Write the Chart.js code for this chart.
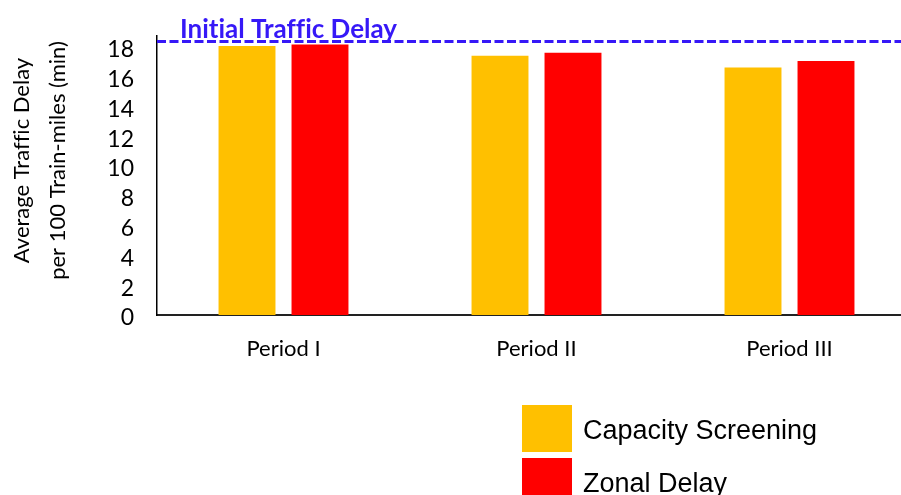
<!DOCTYPE html>
<html>
<head>
<meta charset="utf-8">
<script src="https://cdn.jsdelivr.net/npm/chart.js@4/dist/chart.umd.min.js"></script>
<style>
  html, body { margin: 0; padding: 0; background: #fff; }
  #wrap { position: relative; width: 901px; height: 495px; overflow: hidden; }
  #legend { position: absolute; left: 522px; top: 402px; font-family: "Liberation Sans", Arial, sans-serif; font-size: 27px; color: #000; }
  #legend .item { display: flex; align-items: center; height: 53px; }
  #legend .box { width: 50px; height: 47px; margin-right: 11px; }
  #legend span { position: relative; top: 2px; }
</style>
</head>
<body>
<div id="wrap">
  <canvas id="c" width="901" height="495"></canvas>
  <div id="legend"></div>
</div>
<script>
const categories = ["Period I", "Period II", "Period III"];
const capacityScreening = [18.05, 17.4, 16.6];
const zonalDelay = [18.15, 17.6, 17.05];
const initialTrafficDelay = 18.35;
const seriesNames = ["Capacity Screening", "Zonal Delay"];
const yTickValues = [0, 2, 4, 6, 8, 10, 12, 14, 16, 18];
const yTitle = ["Average Traffic Delay", "per 100 Train-miles (min)"];
const refLabel = "Initial Traffic Delay";

const BLUE = "#3618F7";

const textModePlugin = {
  id: "textMode",
  beforeDraw(chart) { chart.ctx.textRendering = "optimizeSpeed"; }
};

// the plot area of the original runs past the right edge of the picture
const extendXPlugin = {
  id: "extendX",
  afterLayout(chart) {
    const x = chart.scales.x;
    x.right += 15;
    x.width += 15;
    x.configure();
  }
};

const refLinePlugin = {
  id: "refLine",
  afterDatasetsDraw(chart) {
    const { ctx, chartArea, scales } = chart;
    const y = scales.y.getPixelForValue(initialTrafficDelay);
    ctx.save();
    ctx.textRendering = "optimizeSpeed";
    ctx.strokeStyle = BLUE;
    ctx.lineWidth = 3;
    ctx.setLineDash([9, 3.5]);
    ctx.beginPath();
    ctx.moveTo(chartArea.left, y);
    ctx.lineTo(chart.width, y);
    ctx.stroke();
    ctx.setLineDash([]);
    ctx.fillStyle = BLUE;
    ctx.font = "bold 26px Lato";
    ctx.textBaseline = "alphabetic";
    ctx.textAlign = "left";
    ctx.fillText(refLabel, chartArea.left + 23, y - 4);

    // y-axis title (two lines, rotated)
    const cy = (chartArea.top + chartArea.bottom) / 2 - 15;
    ctx.fillStyle = "#000";
    ctx.font = "22px Lato";
    ctx.textAlign = "center";
    ctx.textBaseline = "middle";
    ctx.translate(0, cy);
    ctx.rotate(-Math.PI / 2);
    ctx.fillText(yTitle[0], 0, 22);
    ctx.fillText(yTitle[1], 0, 58);
    ctx.restore();
  }
};

const htmlLegendPlugin = {
  id: "htmlLegend",
  afterUpdate(chart) {
    const el = document.getElementById("legend");
    el.innerHTML = "";
    chart.data.datasets.forEach(ds => {
      const item = document.createElement("div");
      item.className = "item";
      const box = document.createElement("div");
      box.className = "box";
      box.style.background = ds.backgroundColor;
      const txt = document.createElement("span");
      txt.textContent = ds.label;
      item.appendChild(box);
      item.appendChild(txt);
      el.appendChild(item);
    });
  }
};

new Chart(document.getElementById("c"), {
  type: "bar",
  data: {
    labels: categories,
    datasets: [
      { label: seriesNames[0], data: capacityScreening, backgroundColor: "#FFC000" },
      { label: seriesNames[1], data: zonalDelay, backgroundColor: "#FF0000" }
    ]
  },
  options: {
    responsive: false,
    animation: false,
    devicePixelRatio: 1,
    categoryPercentage: 0.577,
    barPercentage: 0.78,
    layout: { padding: { top: 36, right: 0, bottom: 120, left: 0 } },
    plugins: { legend: { display: false }, tooltip: { enabled: false } },
    scales: {
      x: {
        grid: { display: false },
        border: { display: true, color: "#222", width: 2 },
        ticks: { font: { family: "Lato", size: 22 }, color: "#000", padding: 13 },
        afterFit(scale) { scale.height = 60; }
      },
      y: {
        min: 0,
        max: 18.72,
        grid: { display: false },
        border: { display: true, color: "#000", width: 1.5 },
        afterBuildTicks(scale) { scale.ticks = yTickValues.map(v => ({ value: v })); },
        ticks: { font: { family: "Lato", size: 23 }, color: "#000", padding: 15, labelOffset: 3 },
        title: { display: false },
        afterFit(scale) { scale.width = 157; }
      }
    }
  },
  plugins: [textModePlugin, extendXPlugin, refLinePlugin, htmlLegendPlugin]
});
</script>
</body>
</html>
